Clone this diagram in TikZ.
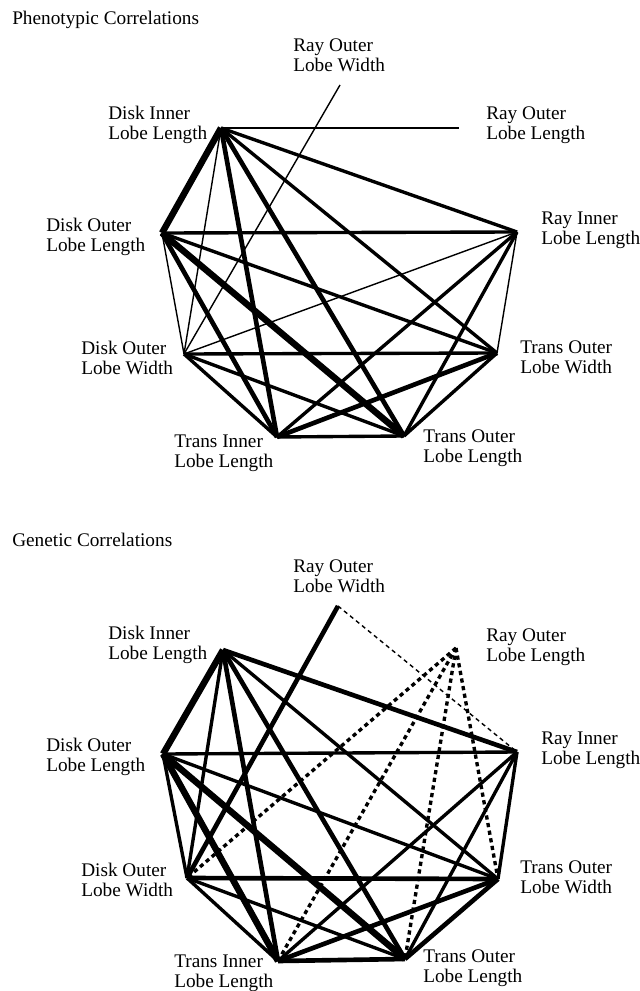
\documentclass[tikz,border=0pt]{standalone}
\usepackage{fontspec}
\setmainfont{Liberation Serif}
\usepackage{tikz}

\begin{document}
\begin{tikzpicture}[x=0.025cm,y=-0.025cm,
  every node/.style={font=\fontsize{13.7}{14.2}\selectfont},
  lbl/.style={anchor=west,align=left,inner sep=0pt},
  wk/.style={line width=1pt},
  md/.style={line width=2.4pt},
  hv/.style={line width=3.3pt},
  xhv/.style={line width=4.6pt},
  ng/.style={dash pattern=on 3pt off 2.5pt}]
\useasboundingbox (0,0) rectangle (639,991);
% phenotypic
\node[lbl] (ptitle) at (12,20) {Phenotypic Correlations};
\coordinate (prow) at (340,85);
\coordinate (pdil) at (221,128);
\coordinate (prol) at (459,128);
\coordinate (pdol) at (162,233);
\coordinate (pril) at (517,232);
\coordinate (pdow) at (184,354);
\coordinate (ptow) at (497,353);
\coordinate (ptil) at (277,437);
\coordinate (ptol) at (404,436);
\node[lbl] (lprow) at (293,55) {Ray Outer\\Lobe Width};
\node[lbl] (lpdil) at (108,125) {Disk Inner\\Lobe Length};
\node[lbl] (lprol) at (486,125) {Ray Outer\\Lobe Length};
\node[lbl] (lpdol) at (46,237) {Disk Outer\\Lobe Length};
\node[lbl] (lpril) at (541,230) {Ray Inner\\Lobe Length};
\node[lbl] (lpdow) at (81,358) {Disk Outer\\Lobe Width};
\node[lbl] (lptow) at (520,357) {Trans Outer\\Lobe Width};
\node[lbl] (lptil) at (174,453) {Trans Inner\\Lobe Length};
\node[lbl] (lptol) at (423,448) {Trans Outer\\Lobe Length};
\draw[wk] (pdil) -- (prol);
\draw[wk] (prow) -- (pdow);
\draw[wk] (pdil) -- (pdow);
\draw[wk] (pdol) -- (pdow);
\draw[wk] (pril) -- (pdow);
\draw[wk] (pril) -- (ptow);
\draw[md] (pdil) -- (pril);
\draw[md] (pdil) -- (ptow);
\draw[md] (pdol) -- (pril);
\draw[md] (pdol) -- (ptow);
\draw[md] (pdow) -- (ptow);
\draw[md] (pdow) -- (ptil);
\draw[md] (pdow) -- (ptol);
\draw[md] (pril) -- (ptil);
\draw[md] (pril) -- (ptol);
\draw[md] (ptow) -- (ptol);
\draw[md] (ptil) -- (ptol);
\draw[hv] (pdil) -- (ptil);
\draw[hv] (pdil) -- (ptol);
\draw[hv] (pdol) -- (ptil);
\draw[hv] (ptow) -- (ptil);
\draw[xhv] (pdil) -- (pdol);
\draw[xhv] (pdol) -- (ptol);
% genetic
\node[lbl] (gtitle) at (12,540) {Genetic Correlations};
\coordinate (grow) at (338,606);
\coordinate (gdil) at (223,650);
\coordinate (grol) at (456,648);
\coordinate (gdol) at (163,754);
\coordinate (gril) at (517,752);
\coordinate (gdow) at (187,878);
\coordinate (gtow) at (498,879);
\coordinate (gtil) at (278,961);
\coordinate (gtol) at (405,959);
\node[lbl] (lgrow) at (293,576) {Ray Outer\\Lobe Width};
\node[lbl] (lgdil) at (108,645) {Disk Inner\\Lobe Length};
\node[lbl] (lgrol) at (486,647) {Ray Outer\\Lobe Length};
\node[lbl] (lgdol) at (46,757) {Disk Outer\\Lobe Length};
\node[lbl] (lgril) at (541,750) {Ray Inner\\Lobe Length};
\node[lbl] (lgdow) at (81,880) {Disk Outer\\Lobe Width};
\node[lbl] (lgtow) at (520,877) {Trans Outer\\Lobe Width};
\node[lbl] (lgtil) at (174,973) {Trans Inner\\Lobe Length};
\node[lbl] (lgtol) at (423,968) {Trans Outer\\Lobe Length};
\draw[wk,ng] (grow) -- (gril);
\draw[md,ng] (grol) -- (gdow);
\draw[md,ng] (grol) -- (gtil);
\draw[md,ng] (grol) -- (gtol);
\draw[md,ng] (grol) -- (gtow);
\draw[md] (gdil) -- (gdow);
\draw[md] (gdil) -- (gtow);
\draw[md] (gdol) -- (gril);
\draw[md] (gdol) -- (gdow);
\draw[md] (gdol) -- (gtow);
\draw[md] (gdow) -- (gtil);
\draw[md] (gdow) -- (gtol);
\draw[md] (gril) -- (gtow);
\draw[md] (gril) -- (gtil);
\draw[md] (gril) -- (gtol);
\draw[hv] (grow) -- (gdow);
\draw[hv] (gdil) -- (gril);
\draw[hv] (gdil) -- (gtil);
\draw[hv] (gdil) -- (gtol);
\draw[hv] (gdow) -- (gtow);
\draw[hv] (gtow) -- (gtil);
\draw[hv] (gtow) -- (gtol);
\draw[hv] (gtil) -- (gtol);
\draw[xhv] (gdil) -- (gdol);
\draw[xhv] (gdol) -- (gtil);
\draw[xhv] (gdol) -- (gtol);
\end{tikzpicture}
\end{document}
